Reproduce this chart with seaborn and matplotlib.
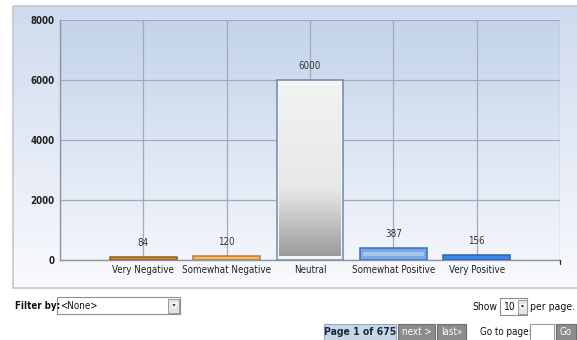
import numpy as np
import pandas as pd
import matplotlib
matplotlib.use("Agg")
import matplotlib.pyplot as plt
from matplotlib.patches import Rectangle, Polygon
import matplotlib.colors as mcolors
import seaborn as sns

# Sentiment counts
categories = ["Very Negative", "Somewhat Negative", "Neutral", "Somewhat Positive", "Very Positive"]
counts = [84, 120, 6000, 387, 156]
y_ticks = [0, 2000, 4000, 6000, 8000]

fills = ["#d8952f", "#f7b964", "#e8e8e8", "#78a8e6", "#3c86e8"]
edges = ["#8b5d22", "#b27b34", "#7088aa", "#3d6fb5", "#2b63b3"]

sns.set_theme(style="white")
plt.rcParams["font.family"] = ["DejaVu Sans"]
plt.rcParams["font.stretch"] = "condensed"

W, H = 577, 340
fig = plt.figure(figsize=(W / 100, H / 100), dpi=100)

# Page-level layer in pixel coordinates (panel + controls)
bg = fig.add_axes([0, 0, 1, 1], zorder=0)
bg.axis("off")

def vgrad(ax, extent, stops, zorder=0, clip=None):
    cmap = mcolors.LinearSegmentedColormap.from_list("g", stops)
    g = np.linspace(0, 1, 256).reshape(-1, 1)
    im = ax.imshow(g, extent=extent, aspect="auto", cmap=cmap,
                   origin="upper", zorder=zorder, interpolation="bilinear")
    if clip is not None:
        im.set_clip_path(clip)
    return im

# Chart panel
vgrad(bg, [13, 577, 288, 6], ["#cfdbee", "#f9fafd"], zorder=0)
bg.add_patch(Rectangle((13, 6), 600, 282, fill=False, ec="#c4c8ce", lw=1.2, zorder=1))
bg.set_xlim(0, W)
bg.set_ylim(H, 0)

# Main bar axes
x0, x1, yt, yb = 60, 560, 20, 260
ax = fig.add_axes([x0 / W, (H - yb) / H, (x1 - x0) / W, (yb - yt) / H], zorder=1)
ax.set_facecolor("none")

df = pd.DataFrame({"category": categories, "count": counts})
sns.barplot(data=df, x="category", y="count", order=categories, ax=ax,
            width=0.8, zorder=3, linewidth=1.1)

for p, fc, ec in zip(ax.patches, fills, edges):
    p.set_facecolor(fc)
    p.set_edgecolor(ec)

# Plot area gradient
vgrad(ax, [-1, 5, 0, 8000], ["#c3d3ea", "#f3f6fb"], zorder=0)
ax.set_xlim(-1, 5)
ax.set_ylim(0, 8000)

# Neutral bar: glossy gray gradient inside its frame
nb = ax.patches[2]
bx, bw, bh = nb.get_x(), nb.get_width(), nb.get_height()
nb.set_facecolor("#f4f5f5")
inner = Rectangle((bx + 0.03, 120), bw - 0.06, bh - 240, transform=ax.transData)
vgrad(ax, [bx + 0.03, bx + bw - 0.03, 120, bh - 240],
      [(0, "#f1f2f2"), (0.6, "#e7e8e8"), (0.72, "#d2d2d2"), (1, "#9a9a9a")],
      zorder=3.5, clip=inner)

# Somewhat positive: lighter band across the middle
sp = ax.patches[3]
ax.add_patch(Rectangle((sp.get_x() + 0.03, sp.get_height() * 0.35),
                       sp.get_width() - 0.06, sp.get_height() * 0.3,
                       fc="#a7c6ef", ec="none", zorder=3.6))

# Grid
for v in range(-1, 6):
    ax.axvline(v, color="#a3abb8", lw=0.9, zorder=1)
for v in y_ticks:
    ax.axhline(v, color="#a3abb8", lw=0.9, zorder=1)

# Value labels
for i, c in enumerate(counts):
    ax.text(i, c + 300, f"{c}", ha="center", va="bottom", fontsize=7,
            color="#333333", zorder=5)

ax.set_yticks(y_ticks)
ax.set_yticklabels([str(v) for v in y_ticks], fontsize=7, fontweight="bold", color="#222222")
ax.set_xticks(range(5))
ax.set_xticklabels(categories, fontsize=7, color="#222222")
ax.tick_params(axis="y", length=3, width=0.9, color="#777777", pad=1)
ax.tick_params(axis="x", length=3, width=0.9, color="#333333", pad=2, direction="inout")
ax.set_xlabel("")
ax.set_ylabel("")
for s in ["top", "right"]:
    ax.spines[s].set_visible(False)
for s in ["left", "bottom"]:
    ax.spines[s].set_color("#8d96a4")
    ax.spines[s].set_linewidth(1.0)
ax.plot([5, 5], [0, -120], color="#333333", lw=0.9, clip_on=False, zorder=4)

# ---- Controls below the chart ----
bg.text(15, 306, "Filter by:", ha="left", va="center", fontweight="bold",
        color="#111111", fontsize=7)
bg.add_patch(Rectangle((57, 297), 123, 17, fc="white", ec="#8e8e8e", lw=0.8, zorder=2))
bg.text(60, 306, "<None>", ha="left", va="center", color="#111111", fontsize=7, zorder=3)
bg.add_patch(Rectangle((168, 298.5), 11, 14, fc="#e4e4e4", ec="#9a9a9a", lw=0.7, zorder=3))
bg.add_patch(Polygon([(171, 303.5), (177, 303.5), (174, 308)], closed=True, fc="#222222", zorder=4))

bg.text(497, 307, "Show", ha="right", va="center", color="#111111", fontsize=7.5)
bg.add_patch(Rectangle((500, 298), 27, 17, fc="white", ec="#8e8e8e", lw=0.8, zorder=2))
bg.text(503, 307, "10", ha="left", va="center", color="#111111", fontsize=7.5, zorder=3)
bg.add_patch(Rectangle((518, 299.5), 8.5, 14, fc="#e4e4e4", ec="#9a9a9a", lw=0.7, zorder=3))
bg.add_patch(Polygon([(519.5, 304.5), (525.5, 304.5), (522.5, 309)], closed=True, fc="#222222", zorder=4))
bg.text(530, 307, "per page.", ha="left", va="center", color="#111111", fontsize=7.5)

bg.add_patch(Rectangle((324, 323.5), 72, 17, fc="#c9d6e8", ec="#9aa8bc", lw=0.8, zorder=2))
bg.text(360, 332, "Page 1 of 675", ha="center", va="center", fontweight="bold",
        color="#1a2a3a", zorder=3, fontsize=7.5)
bg.add_patch(Rectangle((398, 323.5), 37, 17, fc="#8c8c8c", ec="#6e6e6e", lw=0.8, zorder=2))
bg.text(416.5, 332, "next >", ha="center", va="center", color="white", fontsize=7, zorder=3)
bg.add_patch(Rectangle((437, 323.5), 29, 17, fc="#8c8c8c", ec="#6e6e6e", lw=0.8, zorder=2))
bg.text(451.5, 332, "last»", ha="center", va="center", color="white", fontsize=7, zorder=3)
bg.text(480, 332, "Go to page:", ha="left", va="center", color="#111111", fontsize=7)
bg.add_patch(Rectangle((530, 323.5), 24, 17, fc="white", ec="#9a9a9a", lw=0.8, zorder=2))
bg.add_patch(Rectangle((556, 323.5), 20, 17, fc="#8c8c8c", ec="#6e6e6e", lw=0.8, zorder=2))
bg.text(566, 332, "Go", ha="center", va="center", color="white", fontsize=7, zorder=3)

fig.savefig("out.png", dpi=100)
